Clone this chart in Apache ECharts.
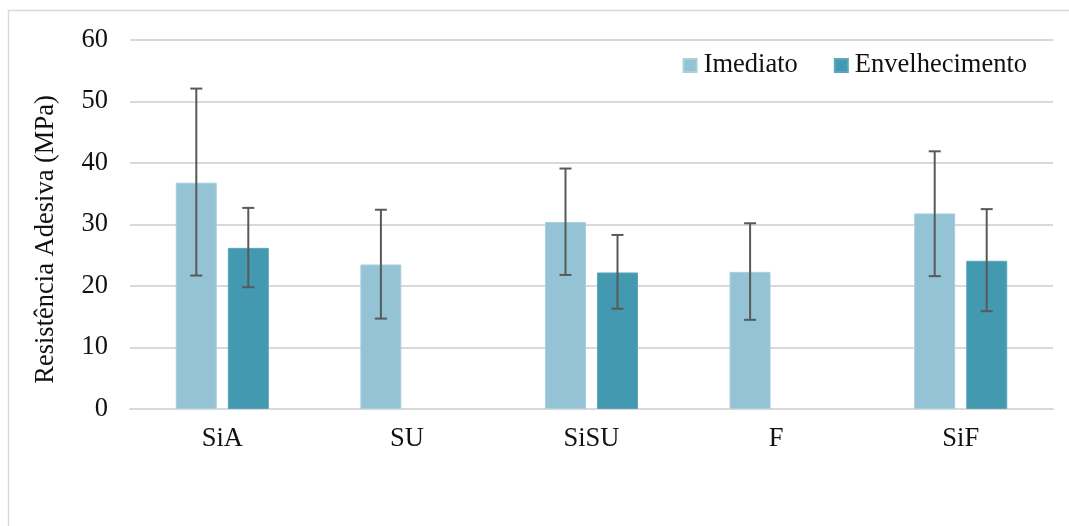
<!DOCTYPE html>
<html>
<head>
<meta charset="utf-8">
<script src="https://cdn.jsdelivr.net/npm/echarts@6/dist/echarts.min.js"></script>
<style>
  html, body { margin: 0; padding: 0; background: #fff; }
  #main { width: 1069px; height: 526px; }
</style>
</head>
<body>
<div id="main"></div>
<script>
var categories = ['SiA', 'SU', 'SiSU', 'F', 'SiF'];
var imediato = [36.8, 23.5, 30.4, 22.3, 31.8];
var envelhecimento = [26.2, '-', 22.2, '-', 24.1];
var imediatoLow = [21.7, 14.7, 21.8, 14.5, 21.6];
var imediatoHigh = [52.1, 32.4, 39.1, 30.2, 41.9];
var envLow = [19.8, null, 16.3, null, 15.9];
var envHigh = [32.7, null, 28.3, null, 32.5];

var font = '"Liberation Serif", "Times New Roman", serif';
var fs = 26.5;
var barW = 41;
var offset = 26;

function errData(low, high) {
	var out = [];
	for (var i = 0; i < low.length; i++) {
		if (low[i] != null) out.push([i, low[i], high[i]]);
	}
	return out;
}

function errRender(shift) {
	return function(params, api) {
		var lo = api.coord([api.value(0), api.value(1)]);
		var hi = api.coord([api.value(0), api.value(2)]);
		var x = lo[0] + shift;
		var st = { stroke: '#595959', lineWidth: 2 };
		return {
			type: 'group',
			children: [
				{ type: 'line', shape: { x1: x, y1: lo[1], x2: x, y2: hi[1] }, style: st },
				{ type: 'line', shape: { x1: x - 6, y1: lo[1], x2: x + 6, y2: lo[1] }, style: st },
				{ type: 'line', shape: { x1: x - 6, y1: hi[1], x2: x + 6, y2: hi[1] }, style: st }
			]
		};
	};
}

var myChart = echarts.init(document.getElementById('main'));
var option = {
	animation: false,
	textStyle: { fontFamily: font },
	graphic: [{
		type: 'rect',
		shape: { x: 8.5, y: 10.5, width: 1080, height: 540 },
		style: { fill: 'none', stroke: '#d9d9d9', lineWidth: 1.5 },
		silent: true
	}],
	legend: {
		data: ['Imediato', 'Envelhecimento'],
		right: 37,
		top: 47,
		itemWidth: 13,
		itemHeight: 13,
		itemGap: 36,
		icon: 'rect',
		textStyle: { fontFamily: font, fontSize: fs, color: '#111', padding: [0, 0, 0, 2] }
	},
	grid: { left: 130, right: 16, top: 40, bottom: 117 },
	xAxis: {
		type: 'category',
		data: categories,
		axisTick: { show: false },
		axisLine: { lineStyle: { color: '#d9d9d9', width: 2 } },
		axisLabel: { fontFamily: font, fontSize: fs, color: '#111', margin: 17 }
	},
	yAxis: {
		type: 'value',
		min: 0,
		max: 60,
		interval: 10,
		name: 'Resistência Adesiva (MPa)',
		nameLocation: 'middle',
		nameGap: 70,
		nameTextStyle: { fontFamily: font, fontSize: fs, color: '#111', padding: [0, 30, 0, 0] },
		axisLine: { show: false },
		axisTick: { show: false },
		axisLabel: { fontFamily: font, fontSize: fs, color: '#111', margin: 22 },
		splitLine: { lineStyle: { color: '#d9d9d9', width: 2 } }
	},
	series: [{
		name: 'Imediato',
		type: 'bar',
		data: imediato,
		barWidth: barW,
		barGap: '27%',
		itemStyle: { color: '#93C3D5', borderColor: '#a9d0de', borderWidth: 1 }
	}, {
		name: 'Envelhecimento',
		type: 'bar',
		data: envelhecimento,
		barWidth: barW,
		barGap: '27%',
		itemStyle: { color: '#4399B0', borderColor: '#5aa7bc', borderWidth: 1 }
	}, {
		type: 'custom',
		data: errData(imediatoLow, imediatoHigh),
		renderItem: errRender(-offset),
		encode: { x: 0, y: [1, 2] },
		z: 5
	}, {
		type: 'custom',
		data: errData(envLow, envHigh),
		renderItem: errRender(offset),
		encode: { x: 0, y: [1, 2] },
		z: 5
	}]
};
myChart.setOption(option);
</script>
</body>
</html>
